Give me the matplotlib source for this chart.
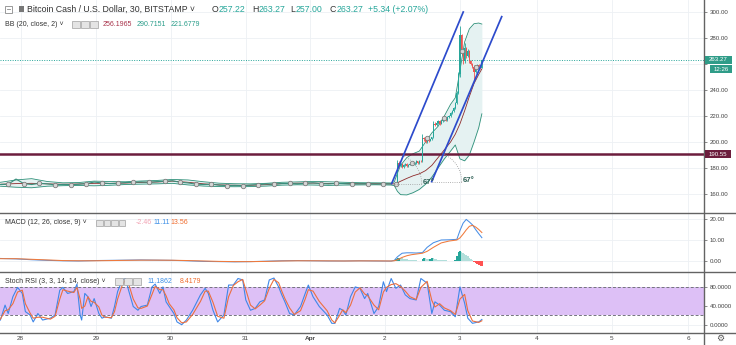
import numpy as np
import matplotlib
matplotlib.use("Agg")
import matplotlib.pyplot as plt
from matplotlib.patches import Rectangle
from matplotlib.lines import Line2D

plt.rcParams["font.family"] = ["Liberation Sans", "DejaVu Sans"]

W, H = 736, 345
AXIS_X = 704.3   # left edge of the price scale (px)

# ── Time axis (30-min bar index) ─────────────────────────────────
day_ticks = [13, 61, 109, 157, 198, 246, 294, 343, 391, 440]
day_labels = ["28", "29", "30", "31", "Apr", "2", "3", "4", "5", "6"]

# ── Price: quiet range before the breakout (every 5th bar) ───────
flat_bars = np.arange(0, 251, 5)
flat_close = [167.3, 167.5, 171.5, 168.0, 167.3, 168.2, 167.8, 167.0, 167.4, 167.2,
              167.5, 168.0, 169.2, 168.5, 168.0, 168.3, 168.8, 169.0, 169.3, 169.0,
              169.5, 169.8, 170.2, 169.0, 168.5, 167.6, 167.3, 167.5, 166.8, 166.5,
              166.7, 166.4, 166.9, 167.2, 167.8, 167.5, 168.0, 168.1, 167.8, 168.3,
              168.6, 168.0, 167.7, 168.2, 168.0, 167.6, 167.8, 167.9, 167.6, 167.8,
              167.7]

# ── Price: breakout candles ──────────────────────────────────────
candle_bars = np.arange(252, 309)
opens = [167.6, 167.8, 168.0, 184.0, 181.5, 183.0, 180.5, 182.0, 183.0, 181.5,
         182.5, 183.0, 184.0, 183.0, 184.0, 185.0, 184.0, 185.5, 185.0, 203.0,
         202.0, 200.0, 203.0, 201.0, 202.0, 203.5, 214.0, 213.0, 214.5, 216.0,
         214.0, 216.0, 217.0, 218.5, 217.0, 219.0, 220.0, 222.0, 224.0, 226.0,
         230.0, 238.0, 252.0, 282.0, 270.0, 262.0, 272.0, 266.0, 270.0, 262.0,
         260.0, 258.0, 254.0, 258.0, 259.0, 257.5, 257.22]
highs = [168.5, 168.6, 186.0, 185.0, 183.8, 183.5, 182.8, 183.8, 183.6, 183.2,
         183.6, 184.6, 184.8, 184.6, 185.8, 185.6, 186.2, 186.0, 206.5, 204.0,
         202.8, 203.8, 203.6, 202.6, 204.2, 216.0, 215.0, 215.2, 217.0, 216.8,
         216.8, 217.8, 219.2, 219.0, 219.8, 220.8, 222.8, 224.8, 226.8, 231.0,
         239.5, 254.0, 289.0, 283.0, 271.0, 276.0, 273.0, 271.5, 271.0, 263.0,
         261.0, 259.0, 259.0, 260.0, 260.0, 259.0, 263.27]
lows = [167.0, 167.3, 167.5, 180.5, 180.8, 179.8, 180.0, 181.2, 180.8, 181.0,
        182.0, 182.5, 182.3, 182.5, 183.3, 183.4, 183.3, 184.5, 184.5, 201.0,
        199.2, 199.5, 200.2, 200.4, 201.3, 202.8, 212.2, 212.5, 213.8, 213.3,
        213.5, 215.2, 216.2, 216.3, 216.4, 218.2, 219.3, 221.2, 223.3, 225.4,
        229.3, 237.0, 250.0, 268.0, 260.0, 261.0, 264.5, 265.0, 261.0, 259.0,
        257.0, 248.0, 253.0, 256.5, 256.5, 256.5, 257.0]
closes = [167.8, 168.0, 184.0, 181.5, 183.0, 180.5, 182.0, 183.0, 181.5, 182.5,
          183.0, 184.0, 183.0, 184.0, 185.0, 184.0, 185.5, 185.0, 203.0, 202.0,
          200.0, 203.0, 201.0, 202.0, 203.5, 214.0, 213.0, 214.5, 216.0, 214.0,
          216.0, 217.0, 218.5, 217.0, 219.0, 220.0, 222.0, 224.0, 226.0, 230.0,
          238.0, 252.0, 282.0, 270.0, 262.0, 272.0, 266.0, 270.0, 262.0, 260.0,
          258.0, 254.0, 258.0, 259.0, 257.5, 257.22, 263.27]
marker_idx = [1, 11, 21, 32, 43, 52]

# ── Bollinger Bands (20, close, 2) ───────────────────────────────
bb_bars = [0, 10, 20, 30, 40, 50, 60, 70, 80, 90, 100, 110, 120, 130, 140, 150,
           160, 170, 180, 190, 200, 210, 220, 230, 240,
           250, 252, 254, 256, 260, 264, 268, 272, 276, 280, 284, 288, 291, 294,
           297, 300, 303, 306, 308]
bb_upper = [169.0, 170.8, 171.8, 169.6, 168.6, 168.8, 169.9, 169.6, 169.4, 170.0,
            170.4, 171.2, 170.8, 169.4, 168.3, 167.9, 167.8, 168.2, 169.0, 169.3,
            169.7, 169.4, 169.0, 168.7, 168.6,
            168.5, 169.3, 176.0, 182.0, 188.0, 191.0, 193.0, 200.0, 207.0, 212.0,
            220.0, 229.0, 234.0, 255.0, 277.0, 287.0, 291.0, 291.5, 290.7151]
bb_basis = [167.5, 168.0, 168.2, 167.8, 167.5, 167.7, 168.2, 168.2, 168.4, 168.9,
            169.2, 169.9, 169.0, 167.8, 167.0, 166.7, 166.7, 167.2, 168.0, 168.3,
            168.4, 168.1, 168.0, 167.9, 167.9,
            167.8, 167.8, 168.6, 169.8, 172.0, 174.0, 175.5, 178.0, 182.0, 188.0,
            194.0, 200.0, 206.0, 214.0, 224.0, 235.0, 245.0, 252.0, 256.1965]
bb_lower = [166.0, 165.2, 164.8, 166.0, 166.4, 166.6, 166.3, 166.7, 167.3, 167.6,
            167.8, 168.2, 167.0, 166.1, 165.7, 165.6, 165.7, 166.1, 166.8, 167.1,
            166.9, 166.6, 166.9, 167.0, 167.1,
            166.9, 166.4, 162.0, 159.5, 159.3, 161.0, 163.5, 167.5, 173.0, 180.0,
            187.0, 193.0, 197.7, 187.0, 185.5, 190.0, 200.0, 211.0, 221.6779]

last_price = 263.27
level_price = 190.55
countdown = "12:26"

# trend channel drawn on the chart: (bar, price) anchors of each line
chan_bars = [[250.3, 296.1], [275.9, 320.7]]
chan_prices = [[168.0, 300.0], [169.5, 296.4]]
chan_angle = 67

# ── MACD (12, 26, close, 9) ──────────────────────────────────────
macd_bars = [0, 10, 20, 30, 40, 50, 60, 70, 80, 90, 100, 110, 120, 130, 140, 150,
             160, 170, 180, 190, 200, 210, 220, 230, 240,
             250, 252, 254, 257, 260, 263, 266, 270, 273, 277, 282, 287, 292, 294,
             296, 298, 300, 302, 304, 306, 308]
macd_line = [1.2, 1.0, 0.6, 0.3, 0.1, 0.0, 0.2, 0.3, 0.4, 0.5, 0.4, 0.3, 0.1, -0.2,
             -0.3, -0.4, -0.3, -0.1, 0.1, 0.2, 0.1, 0.0, 0.0, 0.1, 0.0,
             -0.05, 0.3, 2.0, 3.7, 3.9, 3.9, 3.8, 4.0, 6.5, 8.7, 10.0, 10.1, 10.3,
             14.5, 18.0, 19.8, 18.6, 17.2, 15.0, 13.0, 11.11]
macd_signal = [1.1, 1.1, 0.8, 0.5, 0.2, 0.1, 0.1, 0.2, 0.3, 0.4, 0.4, 0.35, 0.2, 0.0,
               -0.2, -0.3, -0.3, -0.2, 0.0, 0.1, 0.1, 0.05, 0.0, 0.05, 0.05,
               0.0, 0.1, 0.6, 1.7, 2.5, 3.0, 3.3, 3.7, 4.6, 6.5, 8.6, 9.5, 10.0,
               11.0, 12.8, 14.8, 16.5, 17.0, 16.2, 15.0, 13.56]
hist_bars = np.arange(250, 309)
macd_hist = [0.0, 0.0, 0.2, 0.8, 1.3, 1.6, 1.5, 1.3, 1.1, 0.9,
             0.8, 0.7, 0.6, 0.5, 0.4, 0.3, 0.25, 0.2, 0.15, 0.2,
             0.8, 1.3, 1.2, 1.0, 0.8, 1.1, 1.4, 1.2, 1.0, 0.8,
             0.6, 0.5, 0.4, 0.35, 0.3, 0.25, 0.2, 0.15, 0.1, 0.1,
             0.1, 0.5, 2.5, 4.2, 4.8, 4.5, 4.0, 3.4, 2.8, 2.2,
             1.5, 0.9, 0.3, -0.5, -1.1, -1.6, -2.0, -2.4, -2.46]

# ── Stoch RSI (3, 3, 14, 14, close) ──────────────────────────────
stoch_bars = [0, 3, 5, 8, 11, 14, 16, 19, 21, 24, 27, 32, 35, 38, 40, 43, 47, 49,
              51, 52, 54, 56, 58, 60, 63, 65, 67, 71, 73, 75, 78, 80, 82, 85, 88,
              90, 94, 97, 99, 102, 104, 106, 108, 111, 113, 116, 119, 123, 128,
              131, 133, 136, 139, 143, 146, 149, 152, 155, 157, 160, 163, 166, 169,
              172, 175, 178, 180, 182, 185, 188, 192, 195, 197, 200, 204, 209, 212,
              214, 217, 219, 221, 224, 227, 230, 233, 235, 239, 242, 245, 247, 250,
              253, 256, 259, 262, 266, 269, 273, 276, 278, 281, 284, 288, 291, 294,
              297, 299, 302, 306, 308]
stoch_k = [10, 42, 24, 60, 80, 67, 28, 21, 6, 24, 10, 14, 21, 74, 80, 67, 71, 87,
           21, 10, 67, 60, 39, 56, 24, 14, 17, 14, 39, 71, 96, 99, 74, 39, 31, 39,
           42, 81, 87, 67, 81, 49, 39, 24, 6, 0, 10, 31, 64, 78, 67, 31, 6, 21, 85,
           85, 99, 96, 53, 31, 35, 49, 53, 96, 100, 81, 64, 49, 24, 21, 39, 67, 85,
           60, 39, 21, 3, 3, 35, 31, 21, 60, 81, 78, 56, 67, 24, 39, 92, 71, 99, 78,
           85, 64, 56, 53, 99, 89, 24, 49, 42, 31, 28, 17, 81, 46, 14, 3, 6, 11.1862]
stoch_d = [12, 30, 32, 45, 70, 74, 45, 25, 14, 16, 16, 12, 18, 55, 75, 72, 69, 80,
           55, 35, 40, 60, 50, 48, 38, 20, 16, 15, 28, 55, 85, 96, 88, 55, 36, 35,
           40, 65, 82, 75, 75, 62, 45, 32, 15, 4, 6, 22, 50, 72, 72, 48, 18, 14, 60,
           84, 92, 97, 75, 42, 34, 42, 51, 78, 97, 90, 72, 56, 36, 22, 30, 55, 75,
           72, 50, 30, 10, 4, 20, 32, 26, 42, 70, 79, 66, 62, 42, 32, 70, 80, 86,
           88, 82, 72, 60, 54, 80, 93, 52, 38, 45, 36, 30, 22, 55, 65, 30, 8, 5, 8.4179]

UP, DOWN = "#26a69a", "#ef5350"
GRID = "#edf0f4"
fig = plt.figure(figsize=(W / 100, H / 100), dpi=100)


def panel(top, bottom):
    ax = fig.add_axes([0, 1 - bottom / H, AXIS_X / W, (bottom - top) / H])
    for s in ax.spines.values():
        s.set_visible(False)
    ax.yaxis.tick_right()
    ax.tick_params(axis="y", direction="out", length=2.5, width=0.6, color="#777",
                   pad=1.4, labelsize=4.4, labelcolor="#444")
    ax.tick_params(axis="x", length=0, labelbottom=False)
    ax.set_xlim(-0.24, 450.3)
    ax.set_xticks(day_ticks)
    ax.grid(True, color=GRID, lw=0.6)
    ax.set_axisbelow(True)
    return ax


def fig_text(px, py, s, **kw):
    kw.setdefault("va", "center")
    return fig.text(px / W, 1 - py / H, s, **kw)


def fig_box(px, py, w, h, **kw):
    r = Rectangle((px / W, 1 - (py + h) / H), w / W, h / H,
                  transform=fig.transFigure, **kw)
    fig.add_artist(r)


def text_run(px, py, pieces, size):
    rend = fig.canvas.get_renderer()
    x = px
    for s, c in pieces:
        t = fig_text(x, py, s, color=c, fontsize=size, ha="left")
        x = t.get_window_extent(renderer=rend).x1 + 0.3


def icons(px, py, n, w=7.5, gap=1.5):
    for i in range(n):
        fig_box(px + i * (w + gap), py - w / 2, w, w, fc="#e4e4e4", ec="#a0a0a0", lw=0.5)


# ── Price panel ──────────────────────────────────────────────────
ax_p = panel(0, 213.3)
ax_p.set_ylim(145.15, 309.23)
ax_p.set_yticks([160, 180, 200, 220, 240, 260, 280, 300])
ax_p.set_yticklabels(["160.00", "180.00", "200.00", "220.00", "240.00", "",
                      "280.00", "300.00"])

ax_p.fill_between(bb_bars, bb_lower, bb_upper, color="#e5f2f2", lw=0, zorder=1)
ax_p.plot(bb_bars, bb_upper, color="#2c8f78", lw=0.6, zorder=2)
ax_p.plot(bb_bars, bb_lower, color="#2c8f78", lw=0.6, zorder=2)
ax_p.plot(bb_bars, bb_basis, color="#8e2b2b", lw=0.6, zorder=2)

ax_p.axhline(level_price, color="#6c1d3d", lw=1.8, zorder=3)
ax_p.axhline(last_price, color=UP, lw=0.7, ls=(0, (1, 1.5)), zorder=3)

ax_p.plot(flat_bars, flat_close, color="#3a8f7c", lw=0.8, zorder=4)
colors = [UP if c >= o else DOWN for o, c in zip(opens, closes)]
ax_p.vlines(candle_bars, lows, highs, colors=colors, lw=0.6, zorder=4)
ax_p.bar(candle_bars, np.subtract(closes, opens), bottom=opens, width=0.75,
         color=colors, lw=0, zorder=4)

mk_x = list(flat_bars[1::2]) + [candle_bars[i] for i in marker_idx]
mk_y = list(flat_close[1::2]) + [closes[i] for i in marker_idx]
ax_p.plot(mk_x, mk_y, "o", ms=3.2, mfc="#d6d6d6", mec="#7d7d7d", mew=0.6, zorder=5)

# trend channel + angle marks
bar_px, price_px = 1.5633, 1.3
theta = np.radians(np.linspace(0, chan_angle, 30))
for bx, py_ in zip(chan_bars, chan_prices):
    ax_p.plot(bx, py_, color="#2d4bcc", lw=1.25, zorder=6)
    b0, p0 = bx[0], py_[0]
    ax_p.plot(b0 + 30 * np.cos(theta) / bar_px, p0 + 30 * np.sin(theta) / price_px,
              color="#9a9a9a", lw=0.6, ls=":", zorder=6)
    ax_p.plot([b0, b0 + 30 / bar_px], [p0, p0], color="#9a9a9a", lw=0.6, ls=":", zorder=6)
    ax_p.text(b0 + 23.7, p0 + 0.6, f"{chan_angle}°", fontsize=5.6, fontweight="bold",
              color="#2f5f55", ha="center", va="center", zorder=7)

# ── MACD panel ───────────────────────────────────────────────────
ax_m = panel(213.3, 271.7)
ax_m.set_ylim(-5.10, 22.71)
ax_m.set_yticks([0, 10, 20])
ax_m.set_yticklabels(["0.00", "10.00", "20.00"])
hist_cols, prev = [], 0.0
for v in macd_hist:
    if v >= 0:
        hist_cols.append("#26a69a" if v >= prev else "#b2dfdb")
    else:
        hist_cols.append("#ff5252" if v < prev else "#ffcdd2")
    prev = v
ax_m.bar(hist_bars, macd_hist, width=1.0, color=hist_cols, lw=0, zorder=2)
ax_m.plot(macd_bars, macd_line, color="#4a8fe6", lw=0.75, zorder=3)
ax_m.plot(macd_bars, macd_signal, color="#f07a3c", lw=0.75, zorder=3)

# ── Stoch RSI panel ──────────────────────────────────────────────
ax_s = panel(271.7, 333.3)
ax_s.set_ylim(-18.4, 113.6)
ax_s.set_yticks([0, 40, 80])
ax_s.set_yticklabels(["0.0000", "40.0000", "80.0000"])
ax_s.axhspan(20, 80, color="#ddc0f6", lw=0, zorder=1)
for lvl in (20, 80):
    ax_s.axhline(lvl, color="#74747e", lw=0.7, ls=(0, (3, 2)), zorder=2)
ax_s.plot(stoch_bars, stoch_k, color="#3f87e8", lw=0.8, zorder=3)
ax_s.plot(stoch_bars, stoch_d, color="#ec6f3f", lw=0.8, zorder=3)
ax_s.tick_params(axis="x", labelbottom=True, labelsize=4.6, labelcolor="#444", pad=1.8)
ax_s.set_xticklabels(day_labels)
for lab in ax_s.get_xticklabels():
    if lab.get_text() == "Apr":
        lab.set_fontweight("bold")

# ── Separators ───────────────────────────────────────────────────
for y in (213.3, 271.7, 333.3):
    fig.add_artist(Line2D([0, 1], [1 - y / H] * 2, color="#636363", lw=1.0))
fig.add_artist(Line2D([AXIS_X / W] * 2, [0, 1], color="#636363", lw=1.0))


# ── Price-scale labels ───────────────────────────────────────────
def py_of(ax, v):
    return H - ax.transData.transform((0, v))[1]


y_last = py_of(ax_p, last_price)
fig_box(705, y_last - 4, 27, 8, fc="#2f9c88", ec="none", zorder=10)
fig_text(718.5, y_last, f"{last_price:.2f}", color="white", fontsize=4.4, ha="center", zorder=11)
fig_box(710, y_last + 5.5, 22, 8, fc="#2f9c88", ec="none", zorder=10)
fig_text(721, y_last + 9.5, countdown, color="white", fontsize=4.4, ha="center", zorder=11)
y_lvl = py_of(ax_p, level_price)
fig_box(705, y_lvl - 4, 26, 8, fc="#6c1d3d", ec="none", zorder=10)
fig_text(718, y_lvl, f"{level_price:.2f}", color="white", fontsize=4.4, ha="center", zorder=11)
fig_text(720, 338.5, "⚙", family="DejaVu Sans", fontsize=6.5, color="#555", ha="center")

# ── Legends ──────────────────────────────────────────────────────
fig_box(5, 5.5, 7, 7, fc="white", ec="#8a8a8a", lw=0.6)
fig.add_artist(Line2D([6.8 / W, 10.2 / W], [1 - 9 / H] * 2, color="#8a8a8a", lw=0.6))
fig_box(19, 6, 5, 6, fc="#777", ec="none")
fig_text(27, 9, "Bitcoin Cash / U.S. Dollar, 30, BITSTAMP ˅", color="#333", fontsize=6.3)
for x0, k, v in [(212, "O", "257.22"), (252, "H", "263.27"), (290, "L", "257.00"),
                 (330, "C", "263.27")]:
    text_run(x0, 9, [(k, "#333"), (v, UP)], 6.3)
fig_text(368, 9, "+5.34 (+2.07%)", color=UP, fontsize=6.3)

fig_text(5, 24.5, "BB (20, close, 2) ˅", color="#333", fontsize=5.0)
icons(72, 24.5, 3)
fig_text(103, 24.5, f"{bb_basis[-1]:.4f}", color="#a8324a", fontsize=5.0)
fig_text(137, 24.5, f"{bb_upper[-1]:.4f}", color="#2a9d8a", fontsize=5.0)
fig_text(171, 24.5, f"{bb_lower[-1]:.4f}", color="#2a9d8a", fontsize=5.0)

fig_text(5, 223, "MACD (12, 26, close, 9) ˅", color="#333", fontsize=5.0)
icons(96, 223, 4, w=6.5, gap=1.0)
fig_text(136, 223, f"{macd_hist[-1]:.2f}", color="#f2a3b3", fontsize=5.0)
fig_text(153, 223, f"{macd_line[-1]:.2f}", color="#3d8fe6", fontsize=5.0)
fig_text(170, 223, f"{macd_signal[-1]:.2f}", color="#ef6c2e", fontsize=5.0)

fig_text(5, 281.7, "Stoch RSI (3, 3, 14, 14, close) ˅", color="#333", fontsize=5.0)
icons(115, 281.7, 3)
fig_text(147, 281.7, f"{stoch_k[-1]:.4f}", color="#3d8fe6", fontsize=5.0)
fig_text(180, 281.7, f"{stoch_d[-1]:.4f}", color="#ef6c2e", fontsize=5.0)

fig.savefig("out.png", dpi=100)
